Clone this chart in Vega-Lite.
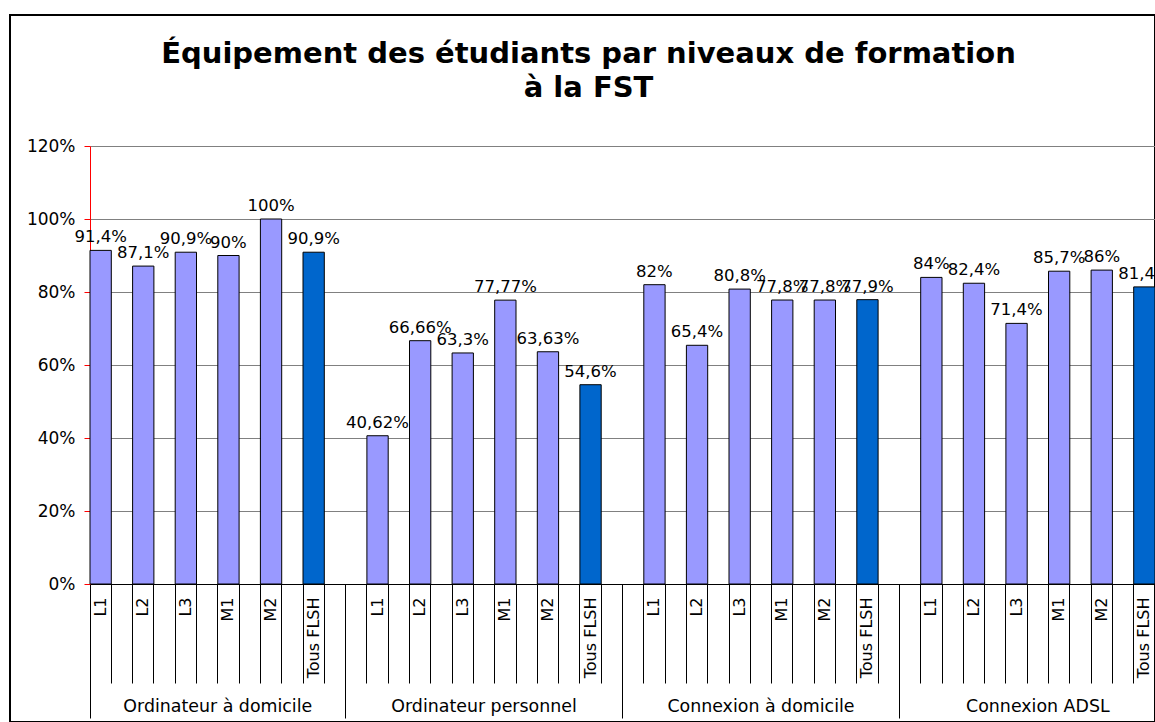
{
  "$schema": "https://vega.github.io/schema/vega-lite/v6.json",
  "width": 1145,
  "height": 707,
  "autosize": {"type": "none"},
  "padding": {"left": 10, "top": 15, "right": 0, "bottom": 0},
  "background": "white",
  "title": {
    "text": ["Équipement des étudiants par niveaux de formation", "à la FST"],
    "font": "DejaVu Sans",
    "fontSize": 29,
    "fontWeight": "bold",
    "color": "#000000",
    "anchor": "middle",
    "frame": "group",
    "baseline": "top",
    "lineHeight": 34,
    "offset": -88,
    "dx": 6
  },
  "config": {
    "view": {"stroke": "#000000", "strokeWidth": 2},
    "font": "DejaVu Sans",
    "locale": {"number": {"decimal": ",", "thousands": " ", "grouping": [3], "currency": ["", " €"]}}
  },
  "data": {
    "values": [
      {"groupe": "Ordinateur à domicile", "niveau": "L1", "valeur": 0.914},
      {"groupe": "Ordinateur à domicile", "niveau": "L2", "valeur": 0.871},
      {"groupe": "Ordinateur à domicile", "niveau": "L3", "valeur": 0.909},
      {"groupe": "Ordinateur à domicile", "niveau": "M1", "valeur": 0.90},
      {"groupe": "Ordinateur à domicile", "niveau": "M2", "valeur": 1.00},
      {"groupe": "Ordinateur à domicile", "niveau": "Tous FLSH", "valeur": 0.909},
      {"groupe": "Ordinateur personnel", "niveau": "L1", "valeur": 0.4062},
      {"groupe": "Ordinateur personnel", "niveau": "L2", "valeur": 0.6666},
      {"groupe": "Ordinateur personnel", "niveau": "L3", "valeur": 0.633},
      {"groupe": "Ordinateur personnel", "niveau": "M1", "valeur": 0.7777},
      {"groupe": "Ordinateur personnel", "niveau": "M2", "valeur": 0.6363},
      {"groupe": "Ordinateur personnel", "niveau": "Tous FLSH", "valeur": 0.546},
      {"groupe": "Connexion à domicile", "niveau": "L1", "valeur": 0.82},
      {"groupe": "Connexion à domicile", "niveau": "L2", "valeur": 0.654},
      {"groupe": "Connexion à domicile", "niveau": "L3", "valeur": 0.808},
      {"groupe": "Connexion à domicile", "niveau": "M1", "valeur": 0.778},
      {"groupe": "Connexion à domicile", "niveau": "M2", "valeur": 0.778},
      {"groupe": "Connexion à domicile", "niveau": "Tous FLSH", "valeur": 0.779},
      {"groupe": "Connexion ADSL", "niveau": "L1", "valeur": 0.84},
      {"groupe": "Connexion ADSL", "niveau": "L2", "valeur": 0.824},
      {"groupe": "Connexion ADSL", "niveau": "L3", "valeur": 0.714},
      {"groupe": "Connexion ADSL", "niveau": "M1", "valeur": 0.857},
      {"groupe": "Connexion ADSL", "niveau": "M2", "valeur": 0.86},
      {"groupe": "Connexion ADSL", "niveau": "Tous FLSH", "valeur": 0.814}
    ]
  },
  "transform": [{"calculate": "datum.groupe + '|' + datum.niveau", "as": "cas"}],
  "encoding": {
    "y": {
      "field": "valeur",
      "type": "quantitative",
      "scale": {"domain": [0, 1.2], "range": [569, 131], "nice": false, "zero": true},
      "axis": {
        "orient": "left",
        "offset": -80,
        "format": ".0%",
        "values": [0, 0.2, 0.4, 0.6, 0.8, 1.0, 1.2],
        "domainColor": "#FF0000",
        "domainWidth": 1,
        "tickColor": "#FF0000",
        "tickSize": 6,
        "labelPadding": 9,
        "labelFont": "DejaVu Sans",
        "labelFontSize": 17,
        "labelColor": "#000000",
        "grid": true,
        "gridColor": "#808080",
        "gridWidth": 1,
        "title": null
      }
    }
  },
  "layer": [
    {
      "mark": {"type": "bar", "stroke": "#000000", "strokeWidth": 1},
      "encoding": {
        "x": {
          "field": "cas",
          "type": "nominal",
          "sort": null,
          "scale": {
            "domain": [
              "Ordinateur à domicile|L1", "Ordinateur à domicile#1", "Ordinateur à domicile|L2", "Ordinateur à domicile#2", "Ordinateur à domicile|L3", "Ordinateur à domicile#3", "Ordinateur à domicile|M1", "Ordinateur à domicile#4", "Ordinateur à domicile|M2", "Ordinateur à domicile#5", "Ordinateur à domicile|Tous FLSH", "Ordinateur à domicile#6",
              "Ordinateur personnel#0", "Ordinateur personnel|L1", "Ordinateur personnel#1", "Ordinateur personnel|L2", "Ordinateur personnel#2", "Ordinateur personnel|L3", "Ordinateur personnel#3", "Ordinateur personnel|M1", "Ordinateur personnel#4", "Ordinateur personnel|M2", "Ordinateur personnel#5", "Ordinateur personnel|Tous FLSH", "Ordinateur personnel#6",
              "Connexion à domicile#0", "Connexion à domicile|L1", "Connexion à domicile#1", "Connexion à domicile|L2", "Connexion à domicile#2", "Connexion à domicile|L3", "Connexion à domicile#3", "Connexion à domicile|M1", "Connexion à domicile#4", "Connexion à domicile|M2", "Connexion à domicile#5", "Connexion à domicile|Tous FLSH", "Connexion à domicile#6",
              "Connexion ADSL#0", "Connexion ADSL|L1", "Connexion ADSL#1", "Connexion ADSL|L2", "Connexion ADSL#2", "Connexion ADSL|L3", "Connexion ADSL#3", "Connexion ADSL|M1", "Connexion ADSL#4", "Connexion ADSL|M2", "Connexion ADSL#5", "Connexion ADSL|Tous FLSH"
            ],
            "range": [80, 1145],
            "paddingInner": 0,
            "paddingOuter": 0
          },
          "axis": {
            "orient": "bottom",
            "offset": -138,
            "bandPosition": 0,
            "domain": true,
            "domainColor": "#000000",
            "domainWidth": 1,
            "ticks": true,
            "tickColor": "#000000",
            "tickWidth": 1,
            "tickSize": 99,
            "labelAngle": -90,
            "labelAlign": "right",
            "labelBaseline": "middle",
            "labelOffset": 0,
            "labelPadding": -86,
            "labelFont": "DejaVu Sans",
            "labelFontSize": 16,
            "labelColor": "#000000",
            "labelLimit": 0,
            "labelOverlap": false,
            "labelBound": false,
            "labelFlush": false,
            "labelExpr": "indexof(datum.value, '|') >= 0 ? split(datum.value, '|')[1] : ''",
            "grid": false,
            "title": null
          }
        },
        "color": {
          "field": "niveau",
          "type": "nominal",
          "scale": {
            "domain": ["L1", "L2", "L3", "M1", "M2", "Tous FLSH"],
            "range": ["#9999FF", "#9999FF", "#9999FF", "#9999FF", "#9999FF", "#0066CC"]
          },
          "legend": null
        }
      }
    },
    {
      "mark": {"type": "text", "baseline": "bottom", "dy": -5, "font": "DejaVu Sans", "fontSize": 16.5, "color": "#000000"},
      "encoding": {
        "x": {
          "field": "cas",
          "type": "nominal",
          "sort": null,
          "axis": {
            "orient": "bottom",
            "offset": -138,
            "bandPosition": 0,
            "values": ["Ordinateur à domicile|L1", "Ordinateur personnel#0", "Connexion à domicile#0", "Connexion ADSL#0"],
            "domain": false,
            "ticks": true,
            "tickColor": "#000000",
            "tickWidth": 1,
            "tickSize": 134,
            "labelAngle": 0,
            "labelAlign": "center",
            "labelBaseline": "middle",
            "labelPadding": -12,
            "labelOffset": {"condition": {"test": "datum.value == 'Ordinateur à domicile|L1'", "value": 117.15}, "value": 127.8},
            "labelFont": "DejaVu Sans",
            "labelFontSize": 17.4,
            "labelColor": "#000000",
            "labelLimit": 0,
            "labelOverlap": false,
            "labelBound": false,
            "labelFlush": false,
            "labelExpr": "split(split(datum.value, '|')[0], '#')[0]",
            "grid": false,
            "title": null
          }
        },
        "text": {"field": "valeur", "type": "quantitative", "format": "~%"}
      }
    }
  ],
  "resolve": {"axis": {"x": "independent"}}
}
